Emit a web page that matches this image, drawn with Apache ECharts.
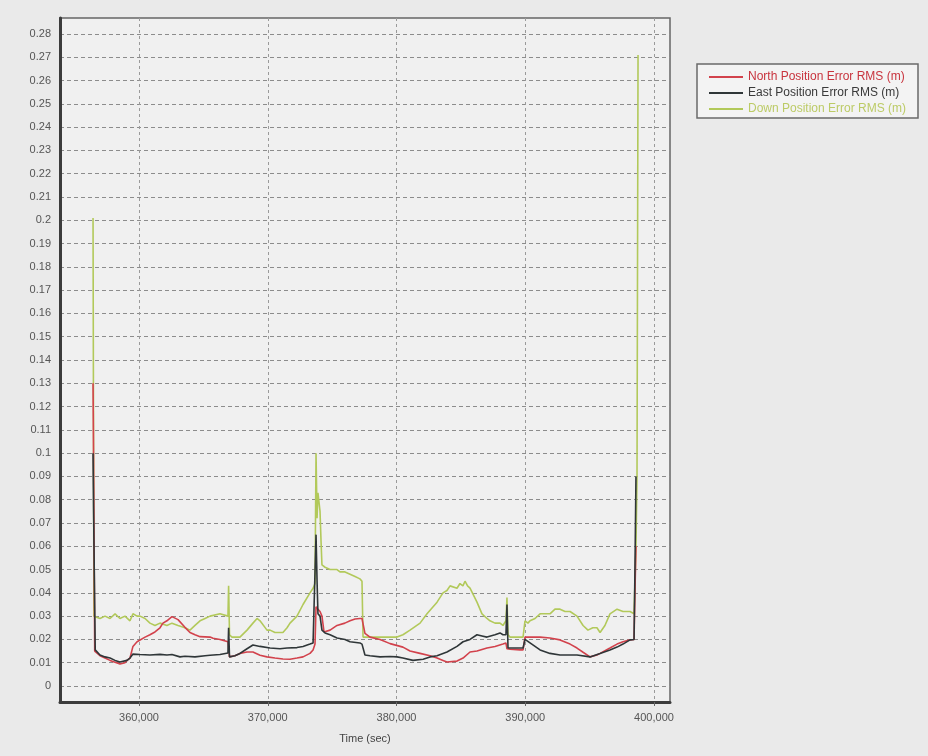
<!DOCTYPE html>
<html>
<head>
<meta charset="utf-8">
<script src="https://cdn.jsdelivr.net/npm/echarts@6/dist/echarts.min.js"></script>
<style>
  html, body { margin: 0; padding: 0; background: #eaeaea; }
  #chart { width: 928px; height: 756px; }
</style>
</head>
<body>
<div id="chart"></div>
<script>
// Position error RMS (m) against GPS time (sec)
const seriesNames = ['North Position Error RMS (m)', 'East Position Error RMS (m)', 'Down Position Error RMS (m)'];
const seriesColors = ['#d2424c', '#2f3638', '#b2c95a'];
const legendTextColors = ['#c8343e', '#3a3a3a', '#bccb66'];

const yTicks = { min: 0, max: 0.28, step: 0.01 };
const xTicks = { min: 360000, max: 400000, step: 10000 };

const northT = [356430, 356470, 356560, 356970, 357360, 357750, 358140, 358520, 358910, 359070, 359300, 359530, 359850, 360470, 360850, 361240, 361630, 361860, 362170, 362560, 363030, 363570, 363960, 364350, 364740, 365520, 365750, 366290, 366910, 367030, 367450, 367840, 368390, 368850, 369400, 369940, 370560, 371180, 371730, 372270, 372740, 373280, 373520, 373670, 373750, 373900, 374060, 374210, 374370, 374840, 375380, 375990, 376390, 376780, 377160, 377320, 377550, 377940, 378720, 379500, 380500, 381050, 381830, 382600, 383150, 383610, 383920, 384700, 385170, 385710, 386250, 387030, 387650, 388270, 388500, 388580, 388820, 389590, 389830, 389980, 390370, 391150, 391920, 392700, 393480, 394020, 394490, 395030, 395570, 395810, 396580, 397130, 397590, 398140, 398450, 398520, 398600];
const northV = [0.130, 0.100, 0.015, 0.013, 0.012, 0.011, 0.0102, 0.0095, 0.0100, 0.0110, 0.0120, 0.0170, 0.0190, 0.0210, 0.0220, 0.0232, 0.0250, 0.0270, 0.0280, 0.0298, 0.0285, 0.0252, 0.0230, 0.0220, 0.0212, 0.0210, 0.0205, 0.0200, 0.0190, 0.0125, 0.0130, 0.0140, 0.0146, 0.0146, 0.0132, 0.0125, 0.0120, 0.0116, 0.0115, 0.0120, 0.0125, 0.0140, 0.0155, 0.0180, 0.0340, 0.0330, 0.0320, 0.0300, 0.0232, 0.0240, 0.0260, 0.0270, 0.0280, 0.0288, 0.0290, 0.0290, 0.0226, 0.0210, 0.0200, 0.0182, 0.0167, 0.0150, 0.0140, 0.0130, 0.0120, 0.0110, 0.0103, 0.0107, 0.0120, 0.0146, 0.0150, 0.0163, 0.0170, 0.0180, 0.0185, 0.0160, 0.0158, 0.0155, 0.0155, 0.0210, 0.0210, 0.0210, 0.0206, 0.0198, 0.0180, 0.0163, 0.0145, 0.0125, 0.0133, 0.0140, 0.0163, 0.0180, 0.0190, 0.0198, 0.0200, 0.0400, 0.0600];

const eastT = [356430, 356470, 356600, 356970, 357360, 357750, 358140, 358520, 359070, 359300, 359530, 360080, 360850, 361630, 362170, 362560, 363180, 363570, 364350, 365130, 365520, 366290, 366910, 366960, 367030, 367450, 367840, 368390, 368850, 369400, 370180, 370950, 371500, 372270, 372740, 373280, 373520, 373670, 373750, 373830, 373900, 374060, 374210, 374450, 374840, 375380, 376000, 376390, 377160, 377320, 377550, 377940, 378720, 379500, 380040, 380500, 381280, 382070, 382600, 383150, 383920, 384700, 385170, 385710, 386250, 386640, 387030, 387650, 388040, 388270, 388500, 388580, 388660, 389200, 389830, 389980, 390370, 391150, 391920, 392700, 394020, 395030, 395810, 396580, 397130, 397590, 398140, 398450, 398520, 398600];
const eastV = [0.100, 0.076, 0.0155, 0.0133, 0.0125, 0.0120, 0.0110, 0.0103, 0.0110, 0.0120, 0.0137, 0.0135, 0.0133, 0.0136, 0.0133, 0.0135, 0.0125, 0.0128, 0.0125, 0.0130, 0.0132, 0.0135, 0.0142, 0.0250, 0.0125, 0.0130, 0.0140, 0.0160, 0.0176, 0.0170, 0.0163, 0.0160, 0.0163, 0.0165, 0.0170, 0.0180, 0.0185, 0.0190, 0.0650, 0.0450, 0.0310, 0.0300, 0.0240, 0.0228, 0.0220, 0.0206, 0.0200, 0.0190, 0.0185, 0.0180, 0.0133, 0.0130, 0.0125, 0.0127, 0.0125, 0.0120, 0.0110, 0.0115, 0.0125, 0.0130, 0.0146, 0.0170, 0.0190, 0.0200, 0.0220, 0.0215, 0.0210, 0.0220, 0.0228, 0.0220, 0.0220, 0.0350, 0.0163, 0.0163, 0.0163, 0.0200, 0.0185, 0.0155, 0.0140, 0.0133, 0.0133, 0.0125, 0.0140, 0.0155, 0.0167, 0.0180, 0.0198, 0.0200, 0.0500, 0.0900];

const downT = [356430, 356500, 356970, 357360, 357750, 358140, 358520, 358910, 359300, 359530, 359850, 360080, 360470, 360850, 361240, 361630, 362170, 362560, 363030, 363570, 363960, 364350, 364740, 365130, 365520, 366290, 366910, 366960, 367030, 367220, 367840, 368390, 368850, 369170, 369400, 369940, 370180, 370560, 370950, 371180, 371500, 371730, 372270, 372740, 373280, 373520, 373670, 373750, 373830, 373900, 374060, 374140, 374210, 374450, 374840, 375380, 375610, 376000, 376390, 376780, 377160, 377320, 377400, 377940, 378720, 379500, 380040, 380500, 381050, 381830, 382370, 383150, 383610, 383920, 384160, 384700, 384930, 385160, 385320, 385520, 385710, 386250, 386640, 387030, 387260, 387650, 388040, 388270, 388500, 388580, 388660, 388820, 389200, 389590, 389830, 389980, 390210, 390370, 390760, 391150, 391920, 392310, 392700, 393090, 393480, 394020, 394490, 394870, 395250, 395570, 395810, 396190, 396580, 397130, 397590, 398140, 398450, 398600, 398680, 398760];
const downV = [0.201, 0.030, 0.029, 0.030, 0.029, 0.031, 0.029, 0.030, 0.028, 0.031, 0.030, 0.030, 0.029, 0.027, 0.026, 0.027, 0.026, 0.027, 0.026, 0.025, 0.024, 0.026, 0.028, 0.029, 0.030, 0.031, 0.030, 0.043, 0.022, 0.021, 0.021, 0.024, 0.027, 0.029, 0.028, 0.024, 0.024, 0.023, 0.023, 0.023, 0.025, 0.027, 0.030, 0.035, 0.040, 0.042, 0.044, 0.100, 0.072, 0.083, 0.075, 0.062, 0.052, 0.051, 0.050, 0.050, 0.049, 0.049, 0.048, 0.047, 0.046, 0.045, 0.021, 0.021, 0.021, 0.021, 0.021, 0.022, 0.024, 0.027, 0.031, 0.036, 0.040, 0.041, 0.043, 0.042, 0.044, 0.043, 0.045, 0.043, 0.042, 0.036, 0.031, 0.029, 0.028, 0.027, 0.027, 0.026, 0.028, 0.038, 0.022, 0.021, 0.021, 0.021, 0.021, 0.028, 0.027, 0.028, 0.029, 0.031, 0.031, 0.033, 0.033, 0.032, 0.032, 0.030, 0.026, 0.024, 0.025, 0.025, 0.023, 0.026, 0.031, 0.033, 0.032, 0.032, 0.031, 0.060, 0.090, 0.271];

// Plot frame in pixels and where the labelled ticks sit inside it
const frame = { left: 60, top: 18, right: 670, bottom: 702 };
const tickBox = { left: 139, right: 654, top: 34, bottom: 686 };

// Extend the data axes so that the frame edges line up with the tick box
const xPerPx = (xTicks.max - xTicks.min) / (tickBox.right - tickBox.left);
const yPerPx = (yTicks.max - yTicks.min) / (tickBox.bottom - tickBox.top);
const dataX = {
  min: xTicks.min - (tickBox.left - frame.left) * xPerPx,
  max: xTicks.max + (frame.right - tickBox.right) * xPerPx
};
const dataY = {
  min: yTicks.min - (frame.bottom - tickBox.bottom) * yPerPx,
  max: yTicks.max + (tickBox.top - frame.top) * yPerPx
};

const zip = (t, v) => t.map((x, i) => [x, v[i]]);
const seriesData = [zip(northT, northV), zip(eastT, eastV), zip(downT, downV)];
const seriesZ = [3, 4, 2];

const labelFont = { fontFamily: 'Liberation Sans, Arial, sans-serif', fontSize: 11, color: '#555' };
const hGrid = { color: '#8c8c8c', width: 1, type: [4, 3] };
const vGrid = { color: '#9a9a9a', width: 1, type: [3, 3] };

const chart = echarts.init(document.getElementById('chart'), null, { renderer: 'canvas' });

chart.setOption({
  animation: false,
  backgroundColor: '#eaeaea',
  grid: [
    { // data frame
      left: frame.left, top: frame.top,
      width: frame.right - frame.left, height: frame.bottom - frame.top,
      show: true, backgroundColor: '#f0f0f0', borderColor: '#666', borderWidth: 1.5
    },
    { // horizontal grid lines and value labels
      left: frame.left, top: tickBox.top,
      width: frame.right - frame.left, height: tickBox.bottom - tickBox.top
    },
    { // vertical grid lines and time labels
      left: tickBox.left, top: frame.top,
      width: tickBox.right - tickBox.left, height: frame.bottom - frame.top
    }
  ],
  xAxis: [
    {
      gridIndex: 0, type: 'value', min: dataX.min, max: dataX.max,
      axisLine: { show: true, onZero: false, lineStyle: { color: '#3c3c3c', width: 3 } },
      axisTick: { show: false }, axisLabel: { show: false }, splitLine: { show: false },
      name: 'Time (sec)', nameLocation: 'middle', nameGap: 31,
      nameTextStyle: { fontFamily: labelFont.fontFamily, fontSize: 11, color: '#444' }
    },
    {
      gridIndex: 1, type: 'value', min: 0, max: 1, show: false
    },
    {
      gridIndex: 2, type: 'value', min: xTicks.min, max: xTicks.max, interval: xTicks.step,
      axisLine: { show: false },
      axisTick: { show: true, inside: false, length: 4, lineStyle: { color: '#666' } },
      axisLabel: Object.assign({ margin: 10 }, labelFont),
      splitLine: { show: true, lineStyle: vGrid }
    }
  ],
  yAxis: [
    {
      gridIndex: 0, type: 'value', min: dataY.min, max: dataY.max,
      axisLine: { show: true, onZero: false, lineStyle: { color: '#3c3c3c', width: 3 } },
      axisTick: { show: false }, axisLabel: { show: false }, splitLine: { show: false }
    },
    {
      gridIndex: 1, type: 'value', min: yTicks.min, max: yTicks.max, interval: yTicks.step,
      axisLine: { show: false }, axisTick: { show: false },
      axisLabel: Object.assign({ margin: 9 }, labelFont),
      splitLine: { show: true, lineStyle: hGrid }
    },
    {
      gridIndex: 2, type: 'value', min: 0, max: 1, show: false
    }
  ],
  legend: {
    orient: 'vertical', left: 704, top: 66, z: 10,
    icon: 'rect', itemWidth: 34, itemHeight: 2, itemGap: 4,
    textStyle: { fontFamily: labelFont.fontFamily, fontSize: 12 },
    data: seriesNames.map((n, i) => ({ name: n, textStyle: { color: legendTextColors[i] } }))
  },
  graphic: [{
    type: 'rect', z: 1,
    shape: { x: 697, y: 64, width: 221, height: 54 },
    style: { fill: '#f3f3f3', stroke: '#6a6a6a', lineWidth: 1.5 }
  }],
  series: seriesNames.map((n, i) => ({
    name: n, type: 'line', xAxisIndex: 0, yAxisIndex: 0,
    data: seriesData[i], showSymbol: false, z: seriesZ[i],
    lineStyle: { color: seriesColors[i], width: 1.6 },
    itemStyle: { color: seriesColors[i] }
  }))
});
</script>
</body>
</html>
